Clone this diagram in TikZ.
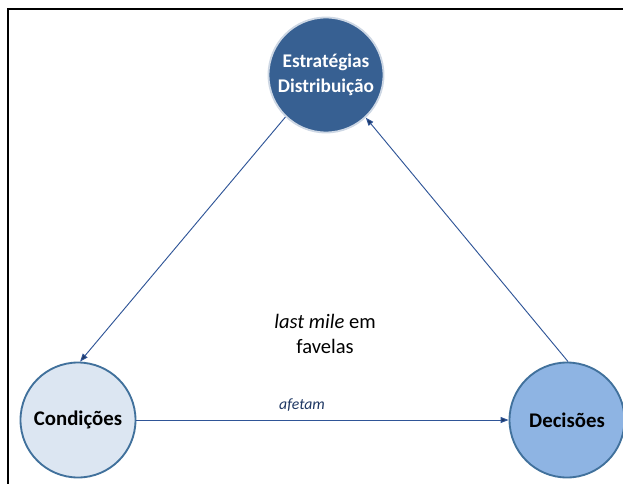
\documentclass[tikz,border=0pt]{standalone}
\usepackage{fontspec}
\setmainfont{Carlito}
\usetikzlibrary{arrows.meta}
\definecolor{darkcirc}{HTML}{376092}
\definecolor{lightcirc}{HTML}{DCE6F2}
\definecolor{midcirc}{HTML}{8EB4E3}
\definecolor{circedge}{HTML}{41719C}
\definecolor{linkblue}{HTML}{2F5597}
\definecolor{tipblue}{HTML}{1F3864}
\tikzset{
  hub/.style={circle, minimum size=115*0.75pt, inner sep=0pt, line width=1.4pt,
    align=center, font=\fontsize{15.6}{18}\selectfont\bfseries},
  link/.style={draw=linkblue, line width=0.7pt,
    -{Triangle[length=6pt,width=4.5pt,fill=tipblue]}},
}
\begin{document}
\begin{tikzpicture}[x=0.75pt, y=-0.75pt]
  \useasboundingbox (0,0) rectangle (623,484);
  % frame lines
  \draw[black, line width=0.9pt] (8,484) -- (8,9) -- (623,9);
  % circles
  \node[hub, fill=darkcirc, draw=white!75!darkcirc, text=white,
    font=\fontsize{14.5}{18.5}\selectfont\bfseries] (estr) at (326,75)
    {Estratégias\\Distribuição};
  \node[hub, fill=lightcirc, draw=circedge] (cond) at (78,420) {Condições};
  \node[hub, fill=midcirc, draw=circedge] (dec) at (567,420) {Decisões};
  % connectors
  \draw[link] (estr.226) -- (cond.88);
  \draw[link] (dec.89) -- (estr.313);
  \draw[link] (cond.east) -- (dec.west);
  % labels
  \node[font=\fontsize{11.8}{14}\selectfont\itshape, text=tipblue] (afetam) at (302,405) {afetam};
  \node[align=center, font=\fontsize{15.4}{18.8}\selectfont] (lastmile) at (325,334)
    {\textit{last mile} em\\favelas};
\end{tikzpicture}
\end{document}
